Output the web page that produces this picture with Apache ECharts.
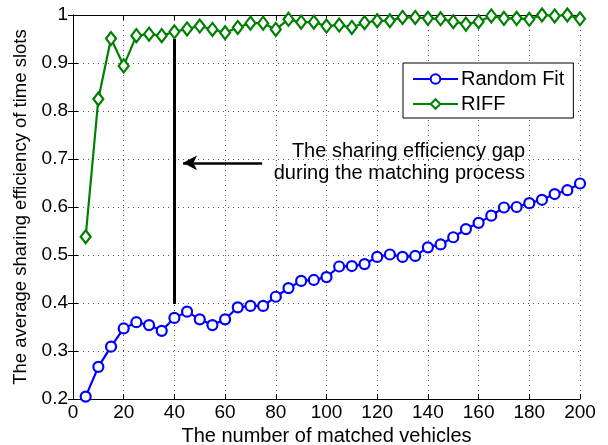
<!DOCTYPE html>
<html lang="en">
<head>
    <meta charset="UTF-8">
    <title>Sharing efficiency</title>
    <script src="https://cdn.jsdelivr.net/npm/echarts@6/dist/echarts.min.js"></script>
    <style>
    html, body { margin: 0; padding: 0; background: #fff; }
    #chart { width: 608px; height: 445px; }
    </style>
</head>
<body>
    <div id="chart"></div>
    <script>
        // number of matched vehicles
        var vehicles = [5,10,15,20,25,30,35,40,45,50,55,60,65,70,75,80,85,90,95,100,
                        105,110,115,120,125,130,135,140,145,150,155,160,165,170,175,180,185,190,195,200];
        var randomFit = [0.205,0.267,0.309,0.347,0.360,0.354,0.342,0.369,0.382,0.366,
                         0.354,0.366,0.391,0.394,0.394,0.413,0.431,0.446,0.448,0.454,
                         0.476,0.477,0.481,0.496,0.501,0.496,0.498,0.516,0.522,0.537,
                         0.554,0.567,0.582,0.599,0.600,0.608,0.615,0.627,0.635,0.649];
        var riff = [0.538,0.825,0.951,0.894,0.957,0.960,0.957,0.965,0.971,0.977,
                    0.970,0.963,0.974,0.983,0.983,0.970,0.991,0.985,0.985,0.977,
                    0.979,0.974,0.984,0.988,0.988,0.995,0.995,0.993,0.992,0.986,
                    0.981,0.986,0.998,0.993,0.993,0.991,1.000,0.998,1.000,0.992];
        // annotation: gap line and arrow (data coords)
        var gapLine = [[40, 0.95], [40, 0.398]];
        var arrowLine = [[74.6, 0.692], [43.4, 0.692]];
        var noteLines = ['The sharing efficiency gap', 'during the matching process'];

        var font = 'Liberation Sans, Arial, sans-serif';
        var myChart = echarts.init(document.getElementById('chart'));

        function pairs(xs, ys) {
            return xs.map(function (x, i) { return [x, ys[i]]; });
        }

        var boxAxis = {
            axisLine: { show: true, lineStyle: { color: '#000', width: 1 } },
            axisTick: { show: true, inside: true, length: 5, lineStyle: { color: '#000' } },
            axisLabel: { show: false },
            splitLine: { show: false }
        };

        option = {
            animation: false,
            backgroundColor: '#fff',
            grid: { left: 73, right: 28, top: 15, bottom: 46, outerBoundsMode: 'none', containLabel: false },
            legend: {
                orient: 'vertical',
                left: 403,
                top: 63,
                padding: [6, 9, 4, 9],
                itemGap: 5,
                itemWidth: 45,
                itemHeight: 12,
                backgroundColor: '#fff',
                borderColor: '#000',
                borderWidth: 1,
                borderRadius: 0,
                textStyle: { fontFamily: font, fontSize: 20, color: '#000', padding: [0, 0, 0, -2] },
                data: ['Random Fit', 'RIFF']
            },
            xAxis: [
                {
                    type: 'value', min: 0, max: 200, interval: 20,
                    name: 'The number of matched vehicles',
                    nameLocation: 'middle', nameGap: 26,
                    nameTextStyle: { fontFamily: font, fontSize: 20, color: '#000' },
                    axisLine: { show: true, onZero: false, lineStyle: { color: '#000' } },
                    axisTick: { show: true, inside: true, length: 5, lineStyle: { color: '#000' } },
                    axisLabel: { fontFamily: font, fontSize: 19, color: '#000', margin: 4 },
                    splitLine: { show: true, lineStyle: { color: '#555', type: [1, 4], width: 1 } }
                },
                Object.assign({ type: 'value', min: 0, max: 200, interval: 20, position: 'top' }, boxAxis)
            ],
            yAxis: [
                {
                    type: 'value', min: 0.2, max: 1, interval: 0.1,
                    name: 'The average sharing efficiency of time slots',
                    nameLocation: 'middle', nameGap: 42,
                    nameTextStyle: { fontFamily: font, fontSize: 18.5, color: '#000' },
                    axisLine: { show: true, onZero: false, lineStyle: { color: '#000' } },
                    axisTick: { show: true, inside: true, length: 5, lineStyle: { color: '#000' } },
                    axisLabel: {
                        fontFamily: font, fontSize: 19, color: '#000', margin: 5,
                        formatter: function (v) { return String(+v.toFixed(1)); }
                    },
                    splitLine: { show: true, lineStyle: { color: '#555', type: [1, 4], width: 1 } }
                },
                Object.assign({ type: 'value', min: 0.2, max: 1, interval: 0.1, position: 'right' }, boxAxis)
            ],
            graphic: noteLines.map(function (t, i) {
                return {
                    type: 'text',
                    right: 608 - 525,
                    top: 141 + i * 22,
                    z: 100,
                    style: { text: t, font: '20px ' + font, fill: '#000' }
                };
            }),
            series: [
                {
                    name: 'Random Fit',
                    type: 'line',
                    data: pairs(vehicles, randomFit),
                    symbol: 'circle',
                    symbolSize: 10,
                    showAllSymbol: true,
                    itemStyle: { color: '#fff', borderColor: '#0000ff', borderWidth: 2.2 },
                    lineStyle: { color: '#0000ff', width: 2.2 },
                    color: '#0000ff',
                    markLine: {
                        silent: true,
                        animation: false,
                        label: { show: false },
                        data: [
                            [
                                { coord: gapLine[0], symbol: 'none' },
                                { coord: gapLine[1], symbol: 'none', lineStyle: { color: '#000', width: 3, type: 'solid' } }
                            ],
                            [
                                { coord: arrowLine[0], symbol: 'none' },
                                { coord: arrowLine[1], symbol: 'arrow', symbolSize: [11, 14], lineStyle: { color: '#000', width: 2.5, type: 'solid' } }
                            ]
                        ],
                        lineStyle: { color: '#000', width: 2.5, type: 'solid' }
                    }
                },
                {
                    name: 'RIFF',
                    type: 'line',
                    data: pairs(vehicles, riff),
                    symbol: 'diamond',
                    symbolSize: [10, 13],
                    showAllSymbol: true,
                    itemStyle: { color: '#fff', borderColor: '#008000', borderWidth: 2.2 },
                    lineStyle: { color: '#008000', width: 2.2 },
                    color: '#008000'
                }
            ]
        };
        myChart.setOption(option);
    </script>
</body>
</html>
